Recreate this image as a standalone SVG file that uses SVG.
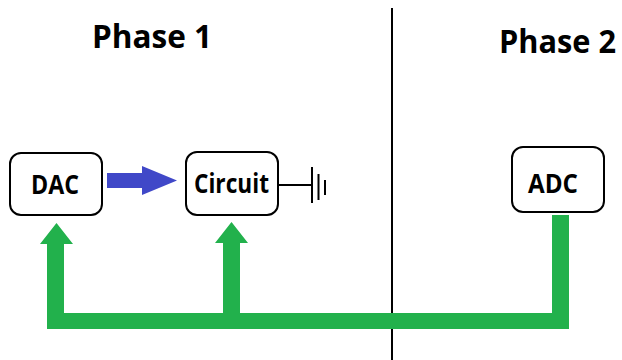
<svg xmlns="http://www.w3.org/2000/svg" width="622" height="360" viewBox="0 0 622 360">
<style>
.box{fill:#fff;stroke:#000;stroke-width:2}
.lbl{font-family:"Open Sans","Liberation Sans",sans-serif;font-weight:bold;font-size:26.5px;fill:#000}
.title{font-family:"Open Sans","Liberation Sans",sans-serif;font-weight:bold;font-size:32.5px;fill:#000}
.green{fill:#22b14c}
.gnd{stroke:#000;stroke-width:2;fill:none}
</style>
<rect width="622" height="360" fill="#fff"/>
<line x1="392" y1="8" x2="392" y2="360" stroke="#000" stroke-width="2"/>
<text class="title" x="92" y="48" textLength="120" lengthAdjust="spacingAndGlyphs">Phase 1</text>
<text class="title" x="499" y="53" textLength="117" lengthAdjust="spacingAndGlyphs">Phase 2</text>
<g id="connectors">
<polygon id="blue-arrow" fill="#4048c8" points="107,173 142,173 142,166 177,180.5 142,195 142,188 107,188"/>
<polygon id="green-bus" class="green" points="47,329 569,329 569,215 552,215 552,313 240,313 240,243 248,243 231.5,222 215,243 223,243 223,313 64,313 64,244 73,244 56.5,223 40,244 47,244"/>
<g id="ground">
<line class="gnd" x1="278" y1="185" x2="312" y2="185"/>
<line class="gnd" x1="312" y1="167" x2="312" y2="203"/>
<line class="gnd" x1="318.5" y1="174" x2="318.5" y2="200"/>
<line class="gnd" x1="325" y1="180" x2="325" y2="195"/>
</g>
</g>
<g id="dac">
<rect class="box" x="10" y="153" width="92" height="62" rx="11"/>
<text class="lbl" x="31" y="194" textLength="48" lengthAdjust="spacingAndGlyphs">DAC</text>
</g>
<g id="circuit">
<rect class="box" x="186" y="152" width="92" height="63" rx="11"/>
<text class="lbl" x="194" y="193" textLength="75" lengthAdjust="spacingAndGlyphs">Circuit</text>
</g>
<g id="adc">
<rect class="box" x="512" y="147" width="92" height="65" rx="11"/>
<text class="lbl" x="528" y="193" textLength="50" lengthAdjust="spacingAndGlyphs">ADC</text>
</g>
</svg>
